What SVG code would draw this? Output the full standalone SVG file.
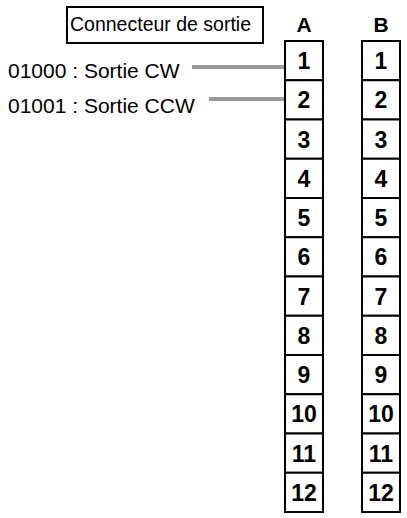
<svg xmlns="http://www.w3.org/2000/svg" width="407" height="518" viewBox="0 0 407 518">
<style>
.lbl{font-family:"Liberation Sans",Arial,sans-serif;font-size:21px;fill:#000}
.ttl{font-family:"Liberation Sans",Arial,sans-serif;font-size:19.5px;fill:#000}
.hd{font-family:"Liberation Sans",Arial,sans-serif;font-size:21px;font-weight:bold;fill:#000;text-anchor:middle}
.num{font-family:"Liberation Sans",Arial,sans-serif;font-size:23px;font-weight:bold;fill:#000;text-anchor:middle}
.cell{fill:#fff;stroke:#000;stroke-width:2}
.wire{stroke:#9a9a9a;stroke-width:4;fill:none}
</style>
<rect width="407" height="518" fill="#fff"/>
<g id="title">
<rect x="67" y="7" width="196" height="36" fill="#fff" stroke="#000" stroke-width="2"/>
<text class="ttl" x="70" y="31">Connecteur de sortie</text>
</g>
<g id="label-cw"><text class="lbl" x="8" y="78">01000 : Sortie CW</text></g>
<g id="label-ccw"><text class="lbl" x="8" y="113">01001 : Sortie CCW</text></g>
<g id="connectors">
<line class="wire" x1="192" y1="67" x2="285" y2="67"/>
<line class="wire" x1="209" y1="99" x2="285" y2="99"/>
</g>
<g id="connector-A">
<text class="hd" x="304" y="32">A</text>
<rect class="cell" x="285" y="41" width="38" height="39.25"/>
<rect class="cell" x="285" y="80.25" width="38" height="39.25"/>
<rect class="cell" x="285" y="119.5" width="38" height="39.25"/>
<rect class="cell" x="285" y="158.75" width="38" height="39.25"/>
<rect class="cell" x="285" y="198" width="38" height="39.25"/>
<rect class="cell" x="285" y="237.25" width="38" height="39.25"/>
<rect class="cell" x="285" y="276.5" width="38" height="39.25"/>
<rect class="cell" x="285" y="315.75" width="38" height="39.25"/>
<rect class="cell" x="285" y="355" width="38" height="39.25"/>
<rect class="cell" x="285" y="394.25" width="38" height="39.25"/>
<rect class="cell" x="285" y="433.5" width="38" height="39.25"/>
<rect class="cell" x="285" y="472.75" width="38" height="39.25"/>
<text class="num" x="304" y="69">1</text>
<text class="num" x="304" y="108.25">2</text>
<text class="num" x="304" y="147.5">3</text>
<text class="num" x="304" y="186.75">4</text>
<text class="num" x="304" y="226">5</text>
<text class="num" x="304" y="265.25">6</text>
<text class="num" x="304" y="304.5">7</text>
<text class="num" x="304" y="343.75">8</text>
<text class="num" x="304" y="383">9</text>
<text class="num" x="304" y="422.25">10</text>
<text class="num" x="304" y="461.5">11</text>
<text class="num" x="304" y="500.75">12</text>
</g>
<g id="connector-B">
<text class="hd" x="381" y="32">B</text>
<rect class="cell" x="362" y="41" width="38" height="39.25"/>
<rect class="cell" x="362" y="80.25" width="38" height="39.25"/>
<rect class="cell" x="362" y="119.5" width="38" height="39.25"/>
<rect class="cell" x="362" y="158.75" width="38" height="39.25"/>
<rect class="cell" x="362" y="198" width="38" height="39.25"/>
<rect class="cell" x="362" y="237.25" width="38" height="39.25"/>
<rect class="cell" x="362" y="276.5" width="38" height="39.25"/>
<rect class="cell" x="362" y="315.75" width="38" height="39.25"/>
<rect class="cell" x="362" y="355" width="38" height="39.25"/>
<rect class="cell" x="362" y="394.25" width="38" height="39.25"/>
<rect class="cell" x="362" y="433.5" width="38" height="39.25"/>
<rect class="cell" x="362" y="472.75" width="38" height="39.25"/>
<text class="num" x="381" y="69">1</text>
<text class="num" x="381" y="108.25">2</text>
<text class="num" x="381" y="147.5">3</text>
<text class="num" x="381" y="186.75">4</text>
<text class="num" x="381" y="226">5</text>
<text class="num" x="381" y="265.25">6</text>
<text class="num" x="381" y="304.5">7</text>
<text class="num" x="381" y="343.75">8</text>
<text class="num" x="381" y="383">9</text>
<text class="num" x="381" y="422.25">10</text>
<text class="num" x="381" y="461.5">11</text>
<text class="num" x="381" y="500.75">12</text>
</g>
</svg>
